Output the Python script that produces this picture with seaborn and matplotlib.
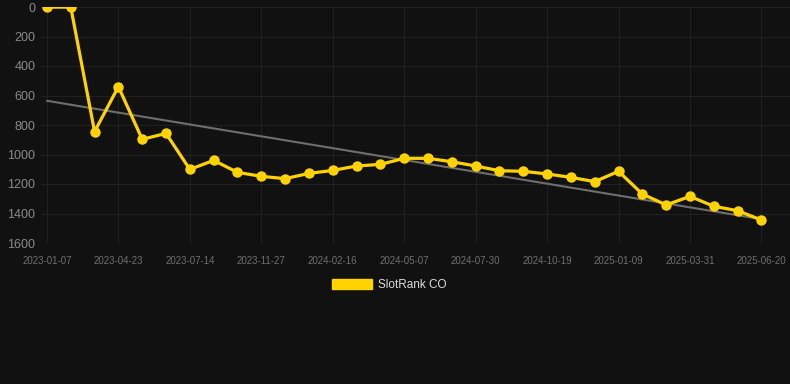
import numpy as np
import pandas as pd
import matplotlib
matplotlib.use("Agg")
import matplotlib.pyplot as plt
import seaborn as sns
from matplotlib.patches import Patch

# tick labels (every 3rd date is shown on the axis)
dates = [
    "2023-01-07", "2023-02-05", "2023-03-20", "2023-04-23", "2023-05-20", "2023-06-15",
    "2023-07-14", "2023-08-30", "2023-10-10", "2023-11-27", "2023-12-20", "2024-01-18",
    "2024-02-16", "2024-03-12", "2024-04-10", "2024-05-07", "2024-06-02", "2024-07-01",
    "2024-07-30", "2024-08-25", "2024-09-22", "2024-10-19", "2024-11-15", "2024-12-12",
    "2025-01-09", "2025-02-04", "2025-03-05", "2025-03-31", "2025-04-25", "2025-05-22",
    "2025-06-20",
]
ranks = [
    1, 1, 845, 540, 897, 857, 1101, 1040, 1121, 1148, 1164, 1128, 1108, 1078, 1067,
    1026, 1026, 1049, 1078, 1110, 1114, 1132, 1155, 1184, 1114, 1268, 1342, 1284,
    1351, 1381, 1444,
]
series_name = "SlotRank CO"

df = pd.DataFrame({"idx": range(len(dates)), "date": dates, "rank": ranks})

bg = "#111111"
gold = "#FFD200"

sns.set_theme(style="dark")
plt.rcParams["font.family"] = ["Liberation Sans", "DejaVu Sans"]

fig = plt.figure(figsize=(7.9, 3.84), dpi=100, facecolor=bg)
ax = fig.add_axes([41 / 790, 1 - 243 / 384, 1 - 41 / 790, (243 - 7) / 384])
ax.set_facecolor(bg)

# linear trend line
coef = np.polyfit(df["idx"], df["rank"], 1)
trend = np.polyval(coef, df["idx"])
ax.plot(df["idx"], trend, color="#6e6e6e", lw=1.5, zorder=2)

sns.lineplot(data=df, x="idx", y="rank", ax=ax, color=gold, lw=2.3,
             marker="o", markersize=7.5, markeredgewidth=0, zorder=3)

ax.set_ylim(1600, 0)
ax.set_xlim(-0.25, 31.2)
ax.set_yticks(range(0, 1601, 200))
ax.set_xticks(df["idx"][::3])
ax.set_xticklabels(df["date"][::3])
ax.tick_params(axis="y", colors="#8a8a8a", labelsize=9, length=0, pad=4)
ax.tick_params(axis="x", colors="#6f6f6f", labelsize=7, length=0, pad=9)
ax.grid(True, color="#202020", lw=0.8)
ax.set_xlabel("")
ax.set_ylabel("")
for s in ax.spines.values():
    s.set_visible(False)

fig.legend(handles=[Patch(facecolor=gold, edgecolor=gold, label=series_name)],
           loc="center", bbox_to_anchor=(389 / 790, 1 - 285 / 384), frameon=False,
           fontsize=8.5, labelcolor="#dddddd", handlelength=3.4, handleheight=1.0,
           handletextpad=0.5)

fig.savefig("out.png", dpi=100, facecolor=bg)
